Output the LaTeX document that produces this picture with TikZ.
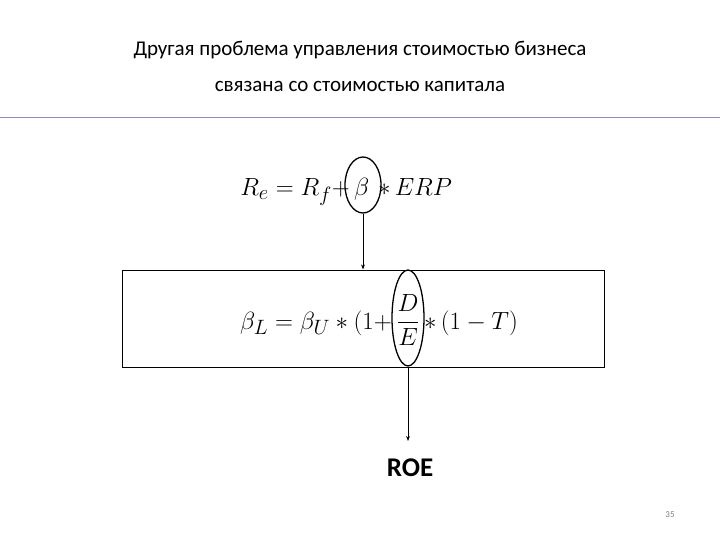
\documentclass[tikz,border=0pt]{standalone}
\usepackage{amsmath}
\usepackage{fontspec}
\setmainfont{Carlito}
\usetikzlibrary{arrows.meta,shapes.geometric}
\begin{document}
\begin{tikzpicture}[x=1pt,y=-1pt,
  mth/.style={inner sep=0pt,font=\fontsize{30}{34}\selectfont},
  ring/.style={draw,ellipse,line width=1.3pt,inner sep=0pt},
  arr/.style={-{Stealth[length=5pt]},line width=0.6pt}]
\useasboundingbox (0,0) rectangle (720,540);
\node (t1) at (360,50) {\fontsize{21}{25}\selectfont Другая проблема управления стоимостью бизнеса};
\node (t2) at (360,86) {\fontsize{21}{25}\selectfont связана со стоимостью капитала};
\draw[color=blue!30!gray!70,line width=1pt] (0,118) -- (720,118);
% formula 1
\node[mth,anchor=base east] (f1a) at (350,196) {$R_e = R_f +$};
\node[mth,anchor=base west] (beta) at (354,196) {$\beta$};
\node[mth,anchor=base west] (f1b) at (378,196) {$*\,ERP$};
\node[ring,minimum width=36pt,minimum height=56pt] (e1) at (363,185) {};
% box
\node[draw,line width=1pt,minimum width=482pt,minimum height=97pt] (box) at (363,318.5) {};
\node[mth,anchor=east] (f2a) at (392,323) {$\beta_L = \beta_U * (1 +$};
\node[mth] (frac) at (408,320) {$\dfrac{D}{E}$};
\node[mth,anchor=west] (f2b) at (424,323) {$*\,(1-T)$};
\node[ring,minimum width=32pt,minimum height=96pt] (e2) at (408,318) {};
\draw[arr] (e1.south) -- (e1.south |- box.north);
\node[font=\fontsize{27}{30}\selectfont\bfseries] (roe) at (410,468) {ROE};
\draw[arr] (e2.south) -- (408,441);
\node[font=\fontsize{9}{10}\selectfont,text=gray] (pg) at (670,515) {35};
\end{tikzpicture}
\end{document}
